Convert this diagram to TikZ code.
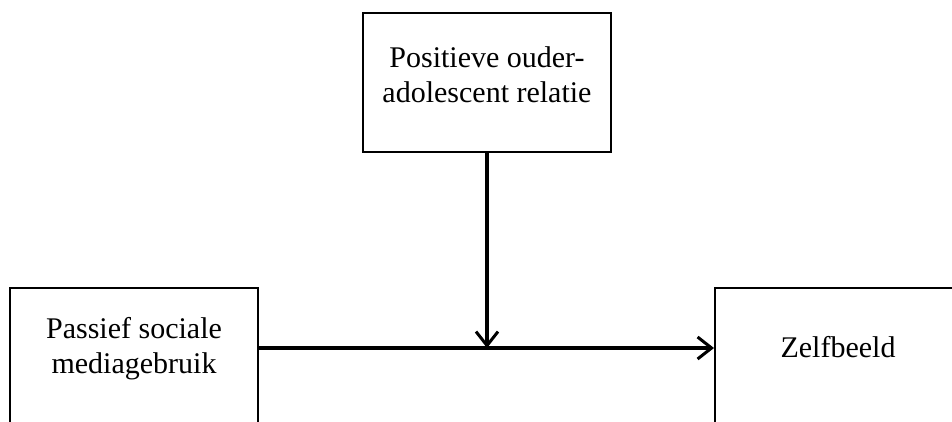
\documentclass[tikz,border=0pt]{standalone}
\usepackage{fontspec}
\setmainfont{Liberation Serif}
\usetikzlibrary{arrows.meta}
\begin{document}
\begin{tikzpicture}[x=1pt,y=-1pt,
  box/.style={draw, line width=2pt, rectangle, inner sep=0pt, minimum width=248pt, minimum height=139pt},
  lbl/.style={font=\fontsize{30}{35}\selectfont, align=center, inner sep=0pt},
  conn/.style={line width=3.2pt, -{Straight Barb[length=14pt,width=22pt,line width=3pt]}}]
\useasboundingbox (0,0) rectangle (952,421);
\clip (0,0) rectangle (952,421);
\node[box] (topbox) at (487,82.5) {};
\node[box] (leftbox) at (134,357.5) {};
\node[box] (rightbox) at (839,357.5) {};
\node[lbl] (toptext) at (487,75) {Positieve ouder-\\adolescent relatie};
\node[lbl] (lefttext) at (134,349) {Passief sociale\\mediagebruik};
\node[lbl, anchor=base] (righttext) at (838,357) {Zelfbeeld};
\coordinate (mid) at (487,348);
\draw[conn] (leftbox.east |- mid) -- (rightbox.west |- mid);
\draw[conn] (topbox.south) -- (mid);
\end{tikzpicture}
\end{document}
